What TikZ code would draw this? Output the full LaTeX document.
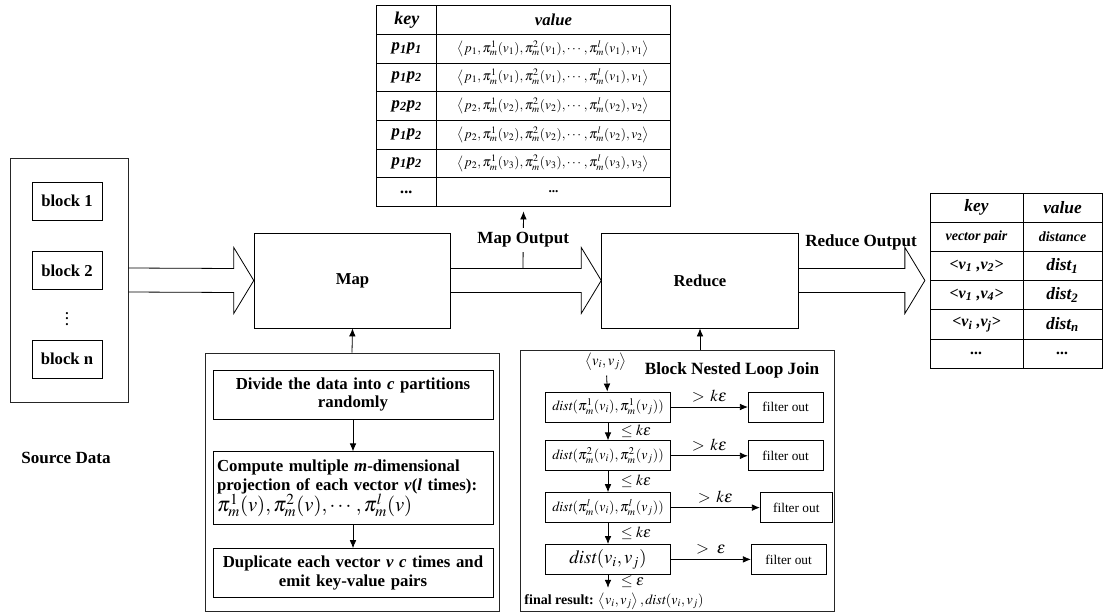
\documentclass[tikz,border=0pt]{standalone}
\usepackage{mathptmx}
\usepackage{amsmath}
\usepackage{fontspec}
\setmainfont{Liberation Serif}
\usetikzlibrary{arrows.meta,positioning,calc,matrix}
\tikzset{
    %Define standard arrow tip
    >={Latex[length=6pt,width=5pt]},
    %Define style for boxes
    framebox/.style={
           draw=black!85, line width=0.7pt,
           inner sep=0pt},
    blockbox/.style={
           draw, line width=0.6pt,
           minimum width=52.5pt,
           minimum height=28.5pt,
           font=\bfseries\fontsize{12.5}{14}\selectfont},
    stagebox/.style={
           draw, line width=0.6pt,
           minimum width=147.5pt,
           minimum height=71.25pt,
           font=\bfseries\fontsize{12.5}{14}\selectfont},
    stepbox/.style={
           draw, line width=0.6pt,
           inner xsep=3pt, inner ysep=2pt,
           text width=204pt,
           align=center,
           font=\bfseries\fontsize{12.6}{14}\selectfont},
    distbox/.style={
           draw, line width=0.6pt,
           minimum width=93.75pt,
           minimum height=22.5pt,
           inner xsep=2pt,
           font=\fontsize{10.5}{12}\selectfont},
    filterbox/.style={
           draw, line width=0.6pt,
           minimum width=56pt,
           minimum height=22.5pt,
           font=\fontsize{10}{12}\selectfont},
    lbltext/.style={
           font=\bfseries\fontsize{12.8}{14}\selectfont},
    kvtable/.style={
           matrix of nodes,
           row sep=-0.6pt, column sep=-0.6pt,
           nodes={draw, line width=0.6pt, anchor=center, inner sep=1pt}},
    % Define arrow style
    pil/.style={
           ->,
           line width=0.6pt}
}
% hollow block arrow between two nodes
\newcommand{\hollowarrow}[2]{%
  \draw[line width=0.6pt] ($(#1.east)+(0,-12)$) -- ($(#2.west)+(-20,-12)$)
    -- ++(0,-21) -- (#2.west) -- ++(-20,33) -- ++(0,-21)
    -- ($(#1.east)+(0,12)$);}
\newcommand{\keypair}[2]{\textbf{\textit{p\textsubscript{#1}p\textsubscript{#2}}}}
\newcommand{\projtuple}[2]{$\left\langle p_{#1},\pi_m^1(v_{#2}),\pi_m^2(v_{#2}),\cdots,\pi_m^l(v_{#2}),v_{#2}\right\rangle$}
\newcommand{\vpair}[2]{\textbf{\textit{<v\textsubscript{#1} ,v\textsubscript{#2}>}}}

\begin{document}
\begin{tikzpicture}[x=0.75pt,y=-0.75pt]
\useasboundingbox (0,0) rectangle (1104,614);

 %source data
\node[framebox, minimum width=88.5pt, minimum height=183pt] (src) at (69,280) {};
\node[blockbox] (b1) at (67,201) {block 1};
\node[blockbox, below=23pt of b1] (b2) {block 2};
\node[blockbox, below=37.5pt of b2] (bn) {block n};
\node at ($(b2.south)!0.5!(bn.north)$) {\bfseries$\vdots$};
\node[lbltext] (srclabel) at (66,458) {Source Data};

 %map and reduce
\node[stagebox] (map) at (352.5,280.5) {Map};
\node[stagebox] (reduce) at (700,280.5) {Reduce};

 %map output table
\matrix[kvtable,
  column 1/.style={nodes={minimum width=45pt, minimum height=21.5pt, font=\bfseries\itshape\fontsize{12.5}{14}\selectfont}},
  column 2/.style={nodes={minimum width=175pt, minimum height=21.5pt, font=\fontsize{10}{12}\selectfont}}]
  (outtab) at (523.5,106) {
  {\fontsize{13.5}{15}\selectfont key} & \textbf{\textit{\fontsize{12.5}{14}\selectfont value}} \\
  \keypair{1}{1} & \projtuple{1}{1} \\
  \keypair{1}{2} & \projtuple{1}{1} \\
  \keypair{2}{2} & \projtuple{2}{2} \\
  \keypair{1}{2} & \projtuple{2}{2} \\
  \keypair{1}{2} & \projtuple{2}{3} \\
  ... & \textbf{...} \\
};

 %reduce output table
\matrix[kvtable,
  column 1/.style={nodes={minimum width=69.75pt, minimum height=21.9pt}},
  column 2/.style={nodes={minimum width=59.25pt, minimum height=21.9pt}},
  nodes={font=\bfseries\itshape\fontsize{12}{14}\selectfont}]
  (redtab) at (1016,280.5) {
  {\fontsize{13}{15}\selectfont key} & {\fontsize{13}{15}\selectfont value} \\
  {\fontsize{10.5}{12}\selectfont vector pair} & {\fontsize{10.5}{12}\selectfont distance} \\
  \vpair{1}{2} & {\fontsize{13}{15}\selectfont dist\textsubscript{1}} \\
  \vpair{1}{4} & {\fontsize{13}{15}\selectfont dist\textsubscript{2}} \\
  \vpair{i}{j} & {\fontsize{13}{15}\selectfont dist\textsubscript{n}} \\
  ... & ... \\
};

 %block arrows
\hollowarrow{src}{map}
\hollowarrow{map}{reduce}
\hollowarrow{reduce}{redtab}
\coordinate (mo) at (523,268);
\draw[pil] (mo) -- node[lbltext, fill=white, inner ysep=3.5pt, inner xsep=2pt]{Map Output} (outtab.south);
\node[lbltext] (redlabel) at (861,242) {Reduce Output};

 %map steps
\node[framebox, minimum width=220.5pt, minimum height=193.5pt] (mapproc) at (352,482) {};
\node[stepbox, minimum height=36.75pt] (divide) at (353,394.5)
  {Divide the data into \textit{c} partitions\\randomly};
\node[stepbox, align=left, minimum height=54.75pt, below=24pt of divide] (project)
  {Compute multiple \textit{m}-dimensional\\projection of each vector \textit{v}(\textit{l} times):\\[-1pt]
   {\fontsize{15.5}{16}\selectfont$\pi_m^1(v),\pi_m^2(v),\cdots,\pi_m^l(v)$}};
\node[stepbox, minimum height=36.75pt, below=17.25pt of project] (dup)
  {Duplicate each vector \textit{v c} times and\\emit key-value pairs};
\draw[pil] (divide) -- (project);
\draw[pil] (project) -- (dup);
\draw[pil] (mapproc.north) -- (map.south);

 %reduce steps
\node[framebox, minimum width=235.5pt, minimum height=195.75pt] (redproc) at (677,480.5) {};
\node (pair) at (606,362) {\fontsize{11}{13}\selectfont$\left\langle v_i,v_j\right\rangle$};
\node[font=\bfseries\fontsize{12.9}{14}\selectfont] (bnlj) at (732,370) {Block Nested Loop Join};
\node[distbox] (d1) at (608,407) {$\mathit{dist}(\pi_m^1(v_i),\pi_m^1(v_j))$};
\node[distbox, below=13.5pt of d1] (d2) {$\mathit{dist}(\pi_m^2(v_i),\pi_m^2(v_j))$};
\node[distbox, below=15.75pt of d2] (d3) {$\mathit{dist}(\pi_m^l(v_i),\pi_m^l(v_j))$};
\node[distbox, below=15.75pt of d3, font=\fontsize{14}{16}\selectfont] (d4) {$\mathit{dist}(v_i,v_j)$};
\node[filterbox, right=57.75pt of d1] (f1) {filter out};
\node[filterbox, right=57.75pt of d2] (f2) {filter out};
\node[filterbox, minimum width=54pt, right=66.75pt of d3] (f3) {filter out};
\node[filterbox, right=60pt of d4] (f4) {filter out};
\coordinate[below=9.75pt of d4] (fin);
\node (result) at (614,601) {\bfseries\fontsize{10.5}{12}\selectfont final result: {\fontsize{10.5}{12}\selectfont$\left\langle v_i,v_j\right\rangle,\mathit{dist}(v_i,v_j)$}};
\path[every node/.style={font=\fontsize{11.5}{13}\selectfont}]
  (pair) edge[pil] (d1)
  (d1) edge[pil] node[right, xshift=6pt]{$\leq k\varepsilon$} (d2)
  (d2) edge[pil] node[right, xshift=6pt]{$\leq k\varepsilon$} (d3)
  (d3) edge[pil] node[right, xshift=6pt]{$\leq k\varepsilon$} (d4)
  (d4) edge[pil] node[right, xshift=6pt]{$\leq \varepsilon$} (fin)
  (d1) edge[pil] node[above, font=\fontsize{12.5}{14}\selectfont]{$>\,k\varepsilon$} (f1)
  (d2) edge[pil] node[above, font=\fontsize{12.5}{14}\selectfont]{$>\,k\varepsilon$} (f2)
  (d3) edge[pil] node[above, font=\fontsize{12.5}{14}\selectfont]{$>\,k\varepsilon$} (f3)
  (d4) edge[pil] node[above, font=\fontsize{12.5}{14}\selectfont]{$>\ \varepsilon$} (f4);
\draw[pil] (redproc.north -| reduce.south) -- (reduce.south);
\end{tikzpicture}
\end{document}
